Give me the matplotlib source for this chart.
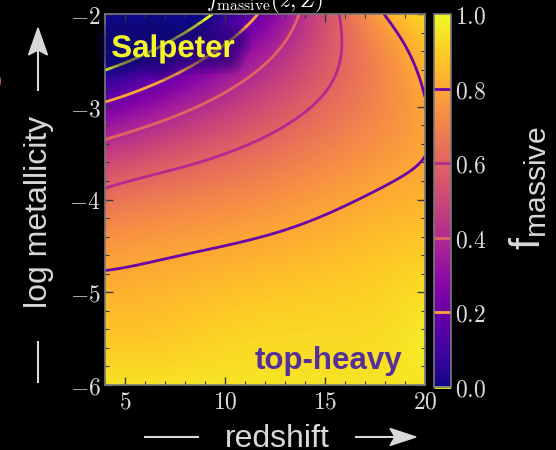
import numpy as np
import matplotlib
matplotlib.use("Agg")
import matplotlib.pyplot as plt
from matplotlib import patheffects as pe
from matplotlib.colors import Normalize
from matplotlib.lines import Line2D
from matplotlib.patches import Polygon
from matplotlib.ticker import MultipleLocator, FuncFormatter
from numpy.polynomial import legendre as L

# ---- data: points of constant f_massive in the (redshift, log Z) plane ----
iso_00_z = [4.0, 6.25, 7.9, 9.4]
iso_00_logZ = [-2.622, -2.420, -2.194, -2.0]
iso_02_z = [4.0, 6.25, 9.5, 10.5, 11.5]
iso_02_logZ = [-2.935, -2.766, -2.474, -2.259, -2.011]
iso_04_z = [4.0, 6.25, 9.25, 10.9, 12.6, 13.4, 13.65]
iso_04_logZ = [-3.348, -3.164, -2.927, -2.679, -2.367, -2.173, -2.011]
iso_06_z = [4.0, 6.25, 9.25, 10.9, 12.6, 14.25, 15.0, 15.5, 15.9, 15.9, 15.8]
iso_06_logZ = [-3.898, -3.768, -3.596, -3.445, -3.218, -2.981, -2.852, -2.712,
               -2.420, -2.173, -2.011]
iso_08_z = [4.0, 7.1, 9.5, 11.75, 13.4, 14.65, 16.25, 17.15, 18.25, 19.0, 19.65,
            20.0, 20.0, 19.65, 18.8, 17.9]
iso_08_logZ = [-4.749, -4.620, -4.512, -4.415, -4.307, -4.199, -4.049, -3.951,
               -3.822, -3.703, -3.542, -3.337, -2.873, -2.679, -2.356, -2.011]
# further readings of f_massive away from the contour lines
extra_z = [4.0, 8.0, 12.0, 16.0, 20.0, 4.0, 20.0, 20.0, 18.0, 20.0, 12.0]
extra_logZ = [-6.0, -6.0, -6.0, -6.0, -6.0, -2.0, -2.0, -3.1, -3.0, -4.5, -5.2]
extra_f = [0.95, 0.95, 0.95, 0.95, 0.95, -0.4, 0.92, 0.78, 0.71, 0.885, 0.9]

contour_levels = [0.0, 0.2, 0.4, 0.6, 0.8]
x_ticks = [5, 10, 15, 20]
y_ticks = [-6, -5, -4, -3, -2]
cbar_ticks = [0.0, 0.2, 0.4, 0.6, 0.8, 1.0]

# ---- smooth least-squares Legendre surface through the readings ----
zs, Zs, fs = [], [], []
for lev, zz, ZZ in zip(contour_levels,
                       [iso_00_z, iso_02_z, iso_04_z, iso_06_z, iso_08_z],
                       [iso_00_logZ, iso_02_logZ, iso_04_logZ, iso_06_logZ, iso_08_logZ]):
    zs += zz; Zs += ZZ; fs += [lev] * len(zz)
zs += extra_z; Zs += extra_logZ; fs += extra_f
zs, Zs, fs = map(np.asarray, (zs, Zs, fs))


def to_unit(z, Z):
    # map the panel onto [-1, 1] x [-1, 1]
    return (np.asarray(z) - 12) / 8, (-4 - np.asarray(Z)) / 2


deg = [4, 4]
V = L.legvander2d(*to_unit(zs, Zs), deg)
coef = np.linalg.solve(V.T @ V + 1e-4 * np.eye(V.shape[1]), V.T @ fs)

zf = np.linspace(4, 20, 321)
Zf = np.linspace(-6, -2, 372)
ZZg, zzg = np.meshgrid(Zf, zf, indexing="ij")
F = (L.legvander2d(*to_unit(zzg.ravel(), ZZg.ravel()), deg) @ coef).reshape(ZZg.shape)

# ---- figure ----
plt.rcParams["mathtext.fontset"] = "cm"
plt.rcParams["mathtext.sf"] = "Liberation Sans"
W, H = 556, 450
fig = plt.figure(figsize=(W / 100, H / 100), dpi=100, facecolor="black")


def P(x, y):
    return (x / W, 1 - y / H)


ax = fig.add_axes([105 / W, 1 - 385 / H, 320 / W, 371 / H])
cax = fig.add_axes([434 / W, 1 - 387 / H, 17 / W, 373 / H])

norm = Normalize(0, 1)
im = ax.imshow(np.clip(F, 0, 1), extent=[4, 20, -6, -2], origin="lower",
               cmap="plasma", norm=norm, aspect="auto", interpolation="bilinear")
cs = ax.contour(zf, Zf, F, levels=contour_levels, cmap="plasma_r", norm=norm,
                linewidths=2.0)
ax.set_xlim(4, 20); ax.set_ylim(-6, -2)
ax.set_xticks(x_ticks); ax.set_yticks(y_ticks)
ax.xaxis.set_minor_locator(MultipleLocator(1))
ax.yaxis.set_minor_locator(MultipleLocator(0.2))
ax.xaxis.set_major_formatter(FuncFormatter(lambda v, p: f"${v:g}$"))
ax.yaxis.set_major_formatter(FuncFormatter(lambda v, p: f"${v:g}$"))
ax.tick_params(which="both", direction="in", top=True, right=True,
               color="#3a3a3a", labelcolor="#dcdcdc", labelsize=17)
ax.tick_params(which="major", length=6, width=1, pad=3)
ax.tick_params(which="minor", length=3, width=0.8)
for s in ax.spines.values():
    s.set_color("#7a7a7a"); s.set_linewidth(1.2)

cbar = fig.colorbar(im, cax=cax)
cbar.add_lines(cs)
cbar.set_ticks(cbar_ticks)
cbar.ax.yaxis.set_major_formatter(FuncFormatter(lambda v, p: f"${v:.1f}$"))
cbar.ax.tick_params(length=0, pad=3, labelcolor="#dcdcdc", labelsize=17)
cbar.outline.set_edgecolor("#7a7a7a"); cbar.outline.set_linewidth(1.2)

# title (mostly above the canvas)
fig.text(*P(265, 7), r"$f_{\rm massive}(z, Z)$", ha="center", va="baseline",
         fontsize=16, color="white")

# annotations inside the panel
glow = [pe.Stroke(linewidth=lw, foreground="#14086a", alpha=0.18)
        for lw in (24, 18, 13, 8)] + [pe.Normal()]
fig.text(*P(173, 57), "Salpeter", ha="center", va="baseline", fontsize=22.5,
         fontweight="bold", family="Liberation Sans", color="#f4f42c",
         path_effects=glow)
fig.text(*P(328, 369), "top-heavy", ha="center", va="baseline", fontsize=22.5,
         fontweight="bold", family="Liberation Sans", color="#55309a")

# axis captions with arrows
cap = dict(color="#d8d8d8", fontsize=23, family="Liberation Sans")
fig.text(*P(277, 447), "redshift", ha="center", va="baseline", **cap)
fig.text(*P(47, 212), "log metallicity", ha="center", va="baseline",
         rotation=90, rotation_mode="anchor", **cap)
fig.text(*P(540, 188), r"$\mathsf{f}_{\mathsf{massive}}$", ha="center",
         va="baseline", rotation=90, rotation_mode="anchor",
         math_fontfamily="custom", color="#d8d8d8", fontsize=31)
fig.text(*P(-7, 80), "s", ha="center", va="center", rotation=90,
         color="#c2508e", fontsize=23, family="Liberation Sans")

lk = dict(color="#d8d8d8", linewidth=1.5, transform=fig.transFigure)
for (x0, y0), (x1, y1) in [((38, 342), (38, 382)), ((38, 50), (38, 90)),
                           ((145, 437), (198, 437)), ((356, 437), (395, 437))]:
    fig.add_artist(Line2D([P(x0, y0)[0], P(x1, y1)[0]],
                          [P(x0, y0)[1], P(x1, y1)[1]], **lk))
fig.add_artist(Polygon([P(38, 28), P(28.5, 55), P(38, 50), P(47.5, 55)],
                       closed=True, color="#d8d8d8", transform=fig.transFigure))
fig.add_artist(Polygon([P(416, 437), P(390, 428.5), P(395, 437), P(390, 445.5)],
                       closed=True, color="#d8d8d8", transform=fig.transFigure))

fig.savefig("out.png", dpi=100, facecolor="black")
